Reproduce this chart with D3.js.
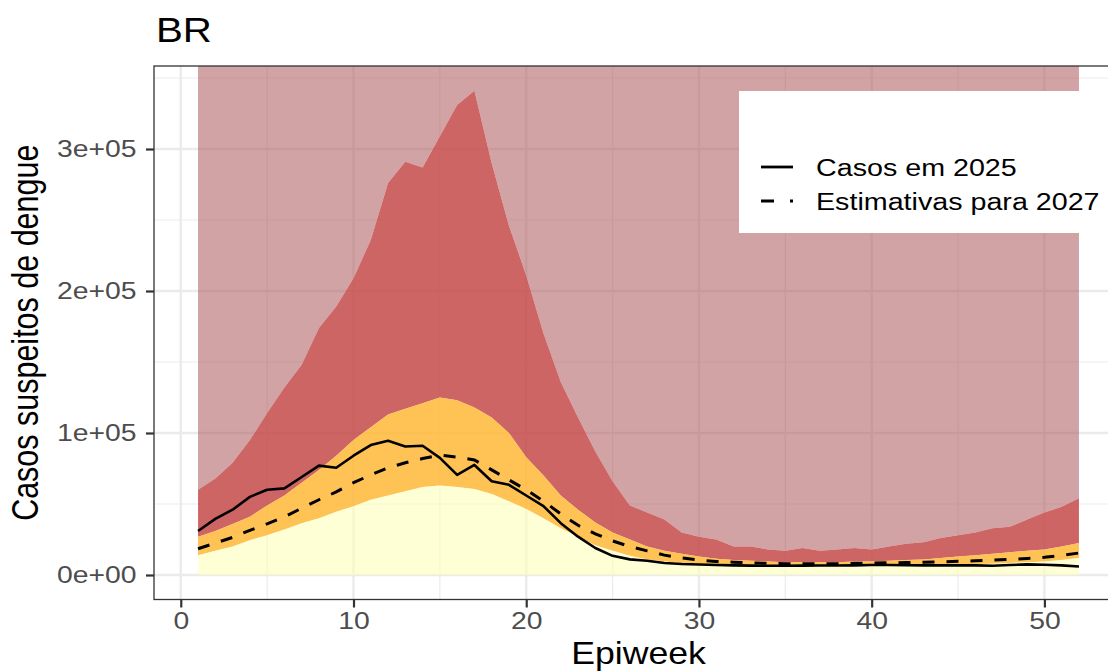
<!DOCTYPE html>
<html>
<head>
<meta charset="utf-8">
<script src="https://cdn.jsdelivr.net/npm/d3@7"></script>
<style>
  body { margin: 0; background: #fff; }
  svg { display: block; font-family: "Liberation Sans", Arial, sans-serif; }
</style>
</head>
<body>
<svg id="chart" width="1108" height="671"></svg>
<script>
// epiuker 1..52
const weeks = d3.range(1, 53);

// ovre graenser for hvert baand (laest af billedet)
const q1Upper = [14000,17000,20000,24500,28000,32000,36500,40000,44500,48500,53000,56000,59000,62000,63000,62000,60500,57000,52000,46500,40000,33000,27000,21000,17000,13500,11000,9500,8500,7500,7000,6800,6600,6500,6500,6500,6500,6500,6600,6700,6800,7000,7200,7400,7600,7800,8000,8500,9000,9500,10500,12000];
const q2Upper = [27000,31000,36000,41000,49000,56000,65000,74000,84000,95000,104000,113000,117000,121000,125000,123000,118000,111000,100000,83000,70000,56000,46000,37000,30000,25000,20000,17000,15000,13000,11500,10500,10000,9500,9000,9000,9000,9000,9500,9500,10000,10500,11000,12000,13000,14000,15000,16000,17000,18000,20000,22500];
const q3Upper = [60000,68000,79000,95000,114000,132000,148000,174000,189000,209000,236000,276000,291000,287000,309000,331000,341000,290000,246000,211000,170000,136000,111000,87000,66000,49000,44000,39000,30000,27000,25000,20000,20000,18000,17000,19000,17000,18000,19000,18000,20000,22000,23000,26000,28000,30000,33000,34000,39000,44000,48000,54000];

// linjerne
const cases2025 = [31000,39500,46000,55000,60000,61000,69000,77000,75500,84000,91500,94500,90500,91000,82500,70500,77500,66000,63500,56000,48500,36500,27000,19000,13500,11000,10000,8500,7700,7400,7000,6800,6600,6500,6500,6600,6700,6700,6800,7000,7000,6900,6800,6800,6800,6800,6500,7000,7500,7200,6800,6000];
const est2027 = [18500,22500,26500,31500,36000,41000,47000,53000,58500,65000,70500,75500,79000,82000,84500,83000,81000,74000,67000,60000,52000,43000,35000,29000,24000,20000,17000,14000,12000,10500,9500,9000,8500,8200,8000,8000,8000,8000,8200,8400,8600,8800,9000,9300,9600,10000,10500,11000,11700,12500,13800,15500];

// akser
const xTicks = [0, 10, 20, 30, 40, 50];
const yTicks = [0, 100000, 200000, 300000];
const yTickLabels = ["0e+00", "1e+05", "2e+05", "3e+05"];
const legendLabels = ["Casos em 2025", "Estimativas para 2027"];

const svg = d3.select("#chart");
const panel = { left: 154, right: 1123, top: 66, bottom: 599.5 };
const sx = 1.15; // billedet er straekt lidt vandret

const x = d3.scaleLinear().domain([-1.55, 54.55]).range([panel.left, panel.right]);
const y = d3.scaleLinear().domain([-17250, 358450]).range([panel.bottom, panel.top]);

svg.append("clipPath").attr("id", "clip")
  .append("rect")
  .attr("x", panel.left).attr("y", panel.top)
  .attr("width", panel.right - panel.left).attr("height", panel.bottom - panel.top);

// gitterlinjer
const grid = svg.append("g").attr("clip-path", "url(#clip)");
const minorX = [5, 15, 25, 35, 45];
const minorY = [50000, 150000, 250000, 350000];
grid.selectAll(".mx").data(minorX).join("line")
  .attr("x1", d => x(d)).attr("x2", d => x(d))
  .attr("y1", panel.top).attr("y2", panel.bottom)
  .attr("stroke", "#ebebeb").attr("stroke-width", 1.2);
grid.selectAll(".my").data(minorY).join("line")
  .attr("x1", panel.left).attr("x2", panel.right)
  .attr("y1", d => y(d)).attr("y2", d => y(d))
  .attr("stroke", "#ebebeb").attr("stroke-width", 1.2);
grid.selectAll(".gx").data(xTicks).join("line")
  .attr("x1", d => x(d)).attr("x2", d => x(d))
  .attr("y1", panel.top).attr("y2", panel.bottom)
  .attr("stroke", "#ebebeb").attr("stroke-width", 2.4);
grid.selectAll(".gy").data(yTicks).join("line")
  .attr("x1", panel.left).attr("x2", panel.right)
  .attr("y1", d => y(d)).attr("y2", d => y(d))
  .attr("stroke", "#ebebeb").attr("stroke-width", 2.4);

// baand
const rows = weeks.map((w, i) => ({
  w, q1: q1Upper[i], q2: q2Upper[i], q3: q3Upper[i], c: cases2025[i], e: est2027[i]
}));
const bands = [
  { lo: d => y(d.q3), hi: () => panel.top - 5, color: "#ab585a", op: 0.55 },
  { lo: d => y(d.q2), hi: d => y(d.q3), color: "#c64a4a", op: 0.85 },
  { lo: d => y(d.q1), hi: d => y(d.q2), color: "#feb737", op: 0.85 },
  { lo: () => y(0), hi: d => y(d.q1), color: "#ffffb9", op: 0.6 }
];
const bandG = svg.append("g").attr("clip-path", "url(#clip)");
bands.forEach(b => {
  bandG.append("path")
    .datum(rows)
    .attr("fill", b.color)
    .attr("fill-opacity", b.op)
    .attr("d", d3.area().x(d => x(d.w)).y0(b.lo).y1(b.hi));
});

// linjer
const line = key => d3.line().x(d => x(d.w)).y(d => y(d[key]));
bandG.append("path").datum(rows)
  .attr("fill", "none").attr("stroke", "#000").attr("stroke-width", 2.6)
  .attr("stroke-linejoin", "round")
  .attr("d", line("c"));
bandG.append("path").datum(rows)
  .attr("fill", "none").attr("stroke", "#000").attr("stroke-width", 3)
  .attr("stroke-dasharray", "12,12")
  .attr("d", line("e"));

// ramme
svg.append("rect")
  .attr("x", panel.left).attr("y", panel.top)
  .attr("width", panel.right - panel.left).attr("height", panel.bottom - panel.top)
  .attr("fill", "none").attr("stroke", "#333").attr("stroke-width", 1.3);

// x-akse
const xAxis = svg.append("g")
  .attr("transform", `translate(0,${panel.bottom})`)
  .call(d3.axisBottom(x).tickValues(xTicks).tickSize(8).tickPadding(4));
xAxis.select(".domain").remove();
xAxis.selectAll("line").attr("stroke", "#333").attr("stroke-width", 2.2);
xAxis.selectAll("text")
  .attr("fill", "#4d4d4d").attr("font-size", 24)
  .attr("font-family", "Liberation Sans, Arial, sans-serif")
  .attr("transform", "scale(1.18,1)");

// y-akse
const yAxis = svg.append("g")
  .attr("transform", `translate(${panel.left},0)`)
  .call(d3.axisLeft(y).tickValues(yTicks).tickSize(8)
    .tickFormat((d, i) => yTickLabels[i]).tickPadding(6));
yAxis.select(".domain").remove();
yAxis.selectAll("line").attr("stroke", "#333").attr("stroke-width", 2.2);
yAxis.selectAll("text")
  .attr("fill", "#4d4d4d").attr("font-size", 24)
  .attr("font-family", "Liberation Sans, Arial, sans-serif")
  .attr("x", -14.8)
  .attr("transform", "scale(1.18,1)");

// titler
svg.append("text")
  .attr("transform", `translate(156,42) scale(${sx},1)`)
  .attr("font-size", 35).attr("fill", "#000")
  .text("BR");
svg.append("text")
  .attr("transform", `translate(${(panel.left + panel.right) / 2},664) scale(${sx},1)`)
  .attr("text-anchor", "middle")
  .attr("font-size", 31).attr("fill", "#000")
  .text("Epiweek");
svg.append("text")
  .attr("transform", `translate(38,${(panel.top + panel.bottom) / 2}) scale(1.2,1) rotate(-90)`)
  .attr("text-anchor", "middle")
  .attr("font-size", 30.5).attr("fill", "#000")
  .text("Casos suspeitos de dengue");

// legende
const leg = svg.append("g");
leg.append("rect")
  .attr("x", 739).attr("y", 91).attr("width", 400).attr("height", 142)
  .attr("fill", "#fff");
const keyY = [167, 201];
leg.selectAll(".key").data(legendLabels).join("line")
  .attr("x1", 761).attr("x2", 793)
  .attr("y1", (d, i) => keyY[i]).attr("y2", (d, i) => keyY[i])
  .attr("stroke", "#000").attr("stroke-width", 2.8)
  .attr("stroke-dasharray", (d, i) => i === 0 ? null : "13,16");
leg.selectAll(".lab").data(legendLabels).join("text")
  .attr("transform", (d, i) => `translate(816,${keyY[i] + 9}) scale(1.17,1)`)
  .attr("font-size", 24.5).attr("fill", "#000")
  .text(d => d);
</script>
</body>
</html>
